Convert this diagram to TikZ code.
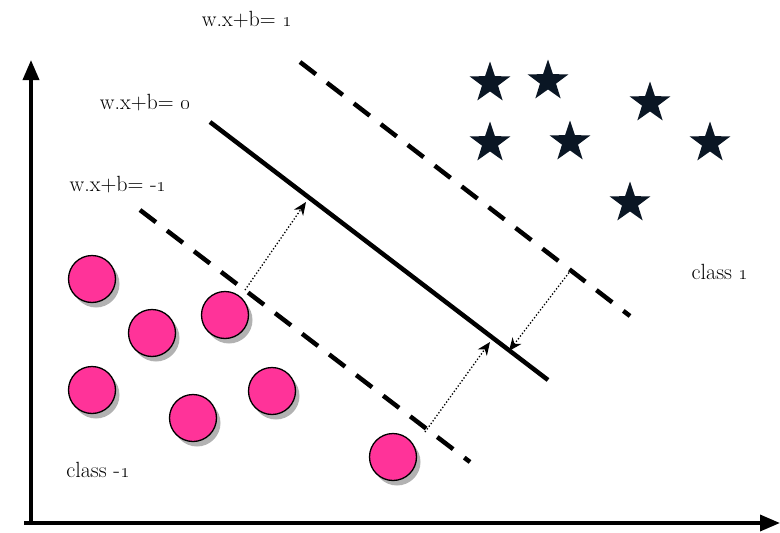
\documentclass[tikz,border=0pt]{standalone}
\usepackage{tikz}
\usetikzlibrary{shapes.geometric, arrows.meta, shadows}

\definecolor{dotpink}{HTML}{FF3399}
\definecolor{starnavy}{HTML}{0A1624}

\begin{document}
\begin{tikzpicture}[x=1pt, y=-1pt,
    point/.style={circle, draw, line width=1.3pt, fill=dotpink, minimum size=47pt, inner sep=0pt,
        drop shadow={shadow xshift=4pt, shadow yshift=-5pt, fill=black!30, opacity=1}},
    starpoint/.style={star, star points=5, star point ratio=2.55, fill=starnavy, minimum size=43pt, inner sep=0pt},
    eqlabel/.style={font=\fontsize{22}{25}\selectfont, inner sep=0pt},
    margin/.style={line width=4.5pt, dash pattern=on 20pt off 14pt},
    axis/.style={-{Triangle[length=20pt, width=16pt]}, line width=3.5pt},
    gap/.style={-{Stealth[length=13pt, width=11pt, inset=4pt]}, dotted, line width=1.3pt}
]
\useasboundingbox (0,0) rectangle (780,533);

% axes
\coordinate (origin) at (31,523);
\coordinate (ytop) at (31,60);
\coordinate (xend) at (780,523);
\draw[axis] (31,525) -- (ytop);
\draw[axis] (24,523) -- (xend);

% hyperplanes
\coordinate (zeroA) at (210,122);
\coordinate (zeroB) at (548,380);
\coordinate (posA) at (300,62);
\coordinate (posB) at (630,316);
\coordinate (negA) at (140,210);
\coordinate (negB) at (470,462);
\draw[line width=4.5pt] (zeroA) -- (zeroB);
\draw[margin] (posA) -- (posB);
\draw[margin] (negA) -- (negB);

\node[eqlabel] (lblpos) at (247,20) {w.x+b= \oldstylenums{1}};
\node[eqlabel] (lblzero) at (145,103) {w.x+b= \oldstylenums{0}};
\node[eqlabel] (lblneg) at (118,185) {w.x+b= -\oldstylenums{1}};

% class -1 points
\node[point] (c1) at (92,279) {};
\node[point] (c2) at (152,333) {};
\node[point] (c3) at (225,315) {};
\node[point] (c4) at (92,390) {};
\node[point] (c5) at (193,418) {};
\node[point] (c6) at (272,391) {};
\node[point] (c7) at (393,457) {};

% class 1 points
\node[starpoint] (s1) at (490,83) {};
\node[starpoint] (s2) at (548,81) {};
\node[starpoint] (s3) at (650,103) {};
\node[starpoint] (s4) at (490,143) {};
\node[starpoint] (s5) at (570,142) {};
\node[starpoint] (s6) at (710,143) {};
\node[starpoint] (s7) at (630,203) {};

% margin distances
\coordinate (g1a) at (245,290);
\coordinate (g1b) at (306,202);
\coordinate (g2a) at (571,270);
\coordinate (g2b) at (509,351);
\coordinate (g3a) at (425,432);
\coordinate (g3b) at (490,342);
\draw[gap] (g1a) -- (g1b);
\draw[gap] (g2a) -- (g2b);
\draw[gap] (g3a) -- (g3b);

\node[eqlabel] (cls1) at (720,272) {class \oldstylenums{1}};
\node[eqlabel] (clsneg) at (98,470) {class -\oldstylenums{1}};
\end{tikzpicture}
\end{document}
